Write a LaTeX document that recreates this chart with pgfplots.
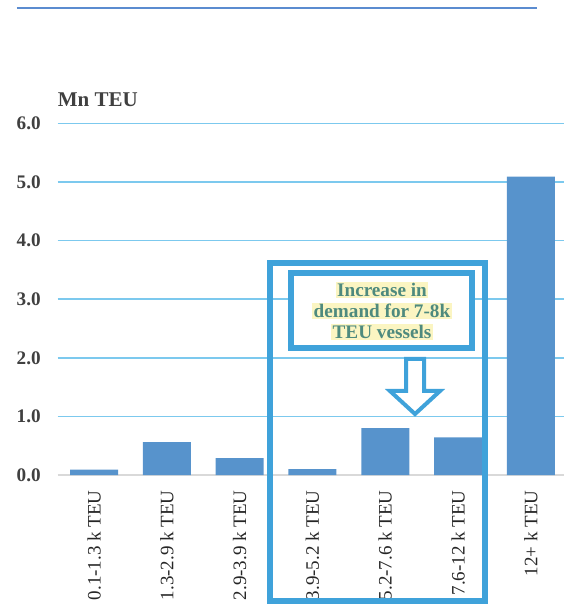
\documentclass[border=0pt]{standalone}
\usepackage{pgfplots}
\pgfplotsset{compat=1.18}
\usepackage{fontspec}
\setmainfont{Liberation Serif}[BoldFont={Liberation Serif Bold}]
\newfontfamily\bfserif{Liberation Serif Bold}
\definecolor{barblue}{HTML}{5793CC}
\definecolor{gridblue}{HTML}{7CC9EE}
\definecolor{boxblue}{HTML}{3FA2DA}
\definecolor{topline}{HTML}{5B8CD0}
\definecolor{txtgray}{HTML}{404040}
\definecolor{teal}{HTML}{4E8A7E}
\definecolor{hl}{HTML}{FBF5C2}
\pgfplotstableread{
x val
0 0.09
1 0.56
2 0.29
3 0.10
4 0.80
5 0.64
6 5.09
}\datatable
\begin{document}
\begin{tikzpicture}
\useasboundingbox (0pt,0pt) rectangle (282pt,303.5pt);
\draw[topline, line width=1pt] (8.5pt,299.5pt) -- (268.5pt,299.5pt);
\begin{axis}[
  at={(28.85pt,66pt)}, anchor=south west,
  scale only axis, width=253.15pt, height=175.85pt,
  xmin=-0.5, xmax=6.455, ymin=0, ymax=6,
  axis x line*=bottom, axis y line*=left,
  y axis line style={draw=none},
  x axis line style={draw=black!15, line width=0.8pt},
  major tick length=0pt,
  ytick={1,2,3,4,5,6},
  yticklabels={1.0,2.0,3.0,4.0,5.0,6.0},
  extra y ticks={0}, extra y tick labels={0.0},
  extra y tick style={grid=none},
  ymajorgrids, grid style={gridblue, line width=0.8pt},
  yticklabel style={font=\fontsize{9.6}{11}\bfserif, text=txtgray, inner sep=0pt},
  yticklabel shift=8.3pt,
  xtick=data,
  xticklabels={0.1-1.3 k TEU,1.3-2.9 k TEU,2.9-3.9 k TEU,3.9-5.2 k TEU,5.2-7.6 k TEU,7.6-12 k TEU,12+ k TEU},
  xticklabel style={rotate=90, anchor=east, font=\fontsize{9.5}{11}\selectfont, text=black!85, inner sep=0pt},
  xticklabel shift=7.5pt,
  ybar, bar width=24pt,
  clip=false,
]
\addplot[fill=barblue, draw=none] table[x=x, y=val] {\datatable};
\end{axis}
\node[anchor=west, font=\fontsize{10.5}{12}\bfserif, text=txtgray, inner sep=0pt] at (28.75pt,253.5pt) {Mn TEU};
% outer box
\draw[boxblue, line width=2.6pt] (135pt,3pt) rectangle (242.5pt,172pt);
% inner box
\draw[boxblue, line width=3pt, fill=white] (145.5pt,129.5pt) rectangle (236pt,167pt);
\foreach \yy/\tt in {158.5/{Increase in}, 148/{demand for 7-8k}, 137.5/{TEU vessels}}{
  \node[fill=hl, inner xsep=0.8pt, inner ysep=0.6pt, text=teal, font=\fontsize{9.6}{10.5}\bfserif] at (191pt,\yy pt) {\tt};
}
% arrow
\draw[boxblue, line width=2pt, fill=white, line join=miter]
  (203pt,124pt) -- (212pt,124pt) -- (212pt,108pt) -- (220pt,108pt) -- (207.5pt,96.5pt)
  -- (195pt,108pt) -- (203pt,108pt) -- cycle;
\end{tikzpicture}
\end{document}
